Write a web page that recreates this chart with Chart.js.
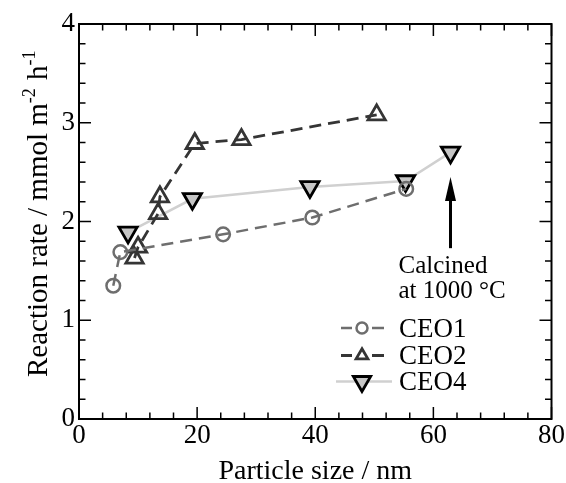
<!DOCTYPE html>
<html><head><meta charset="utf-8">
<script src="https://cdn.jsdelivr.net/npm/chart.js@4/dist/chart.umd.min.js"></script>
<style>html,body{margin:0;padding:0;background:#fff;}#wrap{width:566px;height:483px;}</style>
</head><body><div id="wrap"><canvas id="c" width="566" height="483"></canvas></div>
<script>
// ---- data ----
const ceo1X = [5.8, 7.0, 24.4, 39.5, 55.4];
const ceo1Y = [1.35, 1.69, 1.87, 2.04, 2.33];
const ceo2X = [9.4, 10.0, 13.4, 13.7, 19.6, 27.5, 50.4];
const ceo2Y = [1.63, 1.74, 2.08, 2.25, 2.79, 2.83, 3.08];
const ceo4X = [8.3, 19.2, 39.1, 55.3, 62.9];
const ceo4Y = [1.89, 2.23, 2.35, 2.41, 2.70];
const seriesNames = ['CEO1', 'CEO2', 'CEO4'];
const xTickLabels = ['0', '20', '40', '60', '80'];
const yTickLabels = ['0', '1', '2', '3', '4'];
const xTitle = 'Particle size / nm';
const yTitleParts = ['Reaction rate / mmol m', '-2', ' h', '-1'];
const noteLines = ['Calcined', 'at 1000 °C'];
const arrowX = 62.9, arrowFromY = 1.73, arrowToY = 2.45;

const SERIF = '"Liberation Serif", "Times New Roman", serif';
const pts = (xs, ys) => xs.map((v, i) => ({x: v, y: ys[i]}));

const datasets = [
  {label: seriesNames[0], data: pts(ceo1X, ceo1Y), showLine: true,
   borderColor: '#6e6e6e', borderWidth: 2.5, borderDash: [12, 7],
   pointStyle: 'circle', pointRadius: 6.8, pointBorderWidth: 2.5,
   pointBorderColor: '#6e6e6e', pointBackgroundColor: 'rgba(0,0,0,0)'},
  {label: seriesNames[1], data: pts(ceo2X, ceo2Y), showLine: true,
   borderColor: '#353535', borderWidth: 2.8, borderDash: [12, 7],
   pointStyle: 'triangle', pointRadius: 10, pointBorderWidth: 2.8,
   pointBorderColor: '#353535', pointBackgroundColor: 'rgba(0,0,0,0)'},
  {label: seriesNames[2], data: pts(ceo4X, ceo4Y), showLine: true,
   borderColor: '#d0d0d0', borderWidth: 2.5,
   pointStyle: 'triangle', pointRotation: 180, pointRadius: 10.5, pointBorderWidth: 2.8,
   pointBorderColor: '#000000', pointBackgroundColor: '#c6c6c6'}
];

const frameTicks = {
  id: 'frameTicks',
  beforeDatasetsDraw(chart) {
    const {ctx, chartArea: a, scales: {x, y}} = chart;
    ctx.save();
    ctx.strokeStyle = '#000';
    ctx.lineWidth = 1.5;
    ctx.beginPath();
    for (let v = x.min; v <= x.max + 1e-9; v += 4) {
      const p = x.getPixelForValue(v);
      const len = (Math.abs(v % 20) < 1e-9) ? 12 : 6.5;
      ctx.moveTo(p, a.bottom); ctx.lineTo(p, a.bottom - len);
      ctx.moveTo(p, a.top); ctx.lineTo(p, a.top + len);
    }
    for (let k = 0; k <= 20; k++) {
      const v = y.min + k * 0.2;
      const p = y.getPixelForValue(v);
      const len = (k % 5 === 0) ? 12 : 6.5;
      ctx.moveTo(a.left, p); ctx.lineTo(a.left + len, p);
      ctx.moveTo(a.right, p); ctx.lineTo(a.right - len, p);
    }
    ctx.stroke();
    ctx.lineWidth = 2;
    ctx.strokeRect(a.left, a.top, a.right - a.left, a.bottom - a.top);
    ctx.restore();
  }
};

const extras = {
  id: 'extras',
  afterDraw(chart) {
    const {ctx, scales: {x, y}} = chart;
    ctx.save();
    // y title with superscripts
    ctx.translate(47, 377);
    ctx.rotate(-Math.PI / 2);
    ctx.fillStyle = '#000';
    ctx.textBaseline = 'alphabetic';
    ctx.textAlign = 'left';
    let cx = 0;
    const big = '29px ' + SERIF, small = '18px ' + SERIF;
    yTitleParts.forEach((t, i) => {
      const sup = i % 2 === 1;
      ctx.font = sup ? small : big;
      ctx.fillText(t, cx, sup ? -12 : 0);
      cx += ctx.measureText(t).width + (sup ? 1 : 0);
    });
    ctx.restore();

    // arrow
    ctx.save();
    const ax = x.getPixelForValue(arrowX);
    const ay0 = y.getPixelForValue(arrowFromY);
    const ay1 = y.getPixelForValue(arrowToY);
    ctx.strokeStyle = '#000'; ctx.fillStyle = '#000'; ctx.lineWidth = 3;
    ctx.beginPath(); ctx.moveTo(ax, ay0); ctx.lineTo(ax, ay1 + 20); ctx.stroke();
    ctx.beginPath(); ctx.moveTo(ax, ay1); ctx.lineTo(ax - 5.5, ay1 + 24); ctx.lineTo(ax + 5.5, ay1 + 24); ctx.closePath(); ctx.fill();
    // note text
    ctx.font = '25px ' + SERIF;
    ctx.textAlign = 'left'; ctx.textBaseline = 'alphabetic';
    const nx = x.getPixelForValue(54.1);
    ctx.fillText(noteLines[0], nx, y.getPixelForValue(1.476));
    ctx.fillText(noteLines[1], nx, y.getPixelForValue(1.223));
    ctx.restore();

    // legend
    ctx.save();
    const lgX0 = 336, lgX1 = 392, lgMid = 362, lgText = 399;
    const rowsY = [328, 355.5, 381.5];
    const legendR = [5.5, 6.8, 10];
    chart.data.datasets.forEach((ds, i) => {
      const ry = rowsY[i];
      ctx.strokeStyle = ds.borderColor;
      ctx.lineWidth = ds.borderWidth;
      ctx.beginPath();
      if (ds.borderDash) {
        ctx.moveTo(lgX0 + 5, ry); ctx.lineTo(lgX0 + 16, ry);
        ctx.moveTo(lgX1 - 20, ry); ctx.lineTo(lgX1 - 8, ry);
      } else {
        ctx.moveTo(lgX0, ry); ctx.lineTo(lgX1, ry);
      }
      ctx.stroke();
      ctx.fillStyle = ds.pointBackgroundColor;
      ctx.strokeStyle = ds.pointBorderColor;
      ctx.lineWidth = ds.pointBorderWidth;
      Chart.helpers.drawPoint(ctx, {pointStyle: ds.pointStyle, rotation: ds.pointRotation || 0,
        radius: legendR[i], borderWidth: ds.pointBorderWidth}, lgMid, ry);
      ctx.fillStyle = '#000';
      ctx.font = '27px ' + SERIF;
      ctx.textAlign = 'left'; ctx.textBaseline = 'alphabetic';
      ctx.fillText(ds.label, lgText, ry + 8.5);
    });
    ctx.restore();
  }
};

new Chart(document.getElementById('c'), {
  type: 'scatter',
  data: {datasets},
  options: {
    responsive: false, animation: false, devicePixelRatio: 1,
    layout: {padding: {left: 0, right: 14, top: 24, bottom: 0}},
    plugins: {legend: {display: false}, tooltip: {enabled: false}},
    scales: {
      x: {
        type: 'linear', min: 0, max: 80,
        afterFit(s) { s.height = 64; },
        afterBuildTicks(s) { s.ticks = xTickLabels.map(t => ({value: Number(t)})); },
        ticks: {callback: (v, i) => xTickLabels[i], color: '#000', padding: 1,
                font: {family: SERIF, size: 27, lineHeight: 1.2}, maxRotation: 0, autoSkip: false},
        grid: {display: false, drawTicks: false}, border: {display: false},
        title: {display: true, text: xTitle, color: '#000',
                font: {family: SERIF, size: 28, lineHeight: 1}, padding: {top: 0, bottom: -3}}
      },
      y: {
        type: 'linear', min: 0, max: 4,
        afterFit(s) { s.width = 79; },
        afterBuildTicks(s) { s.ticks = yTickLabels.map(t => ({value: Number(t)})); },
        ticks: {callback: (v, i) => yTickLabels[i], color: '#000', padding: 4,
                font: {family: SERIF, size: 27, lineHeight: 1.2}, autoSkip: false},
        grid: {display: false, drawTicks: false}, border: {display: false}
      }
    }
  },
  plugins: [frameTicks, extras]
});
</script></body></html>
